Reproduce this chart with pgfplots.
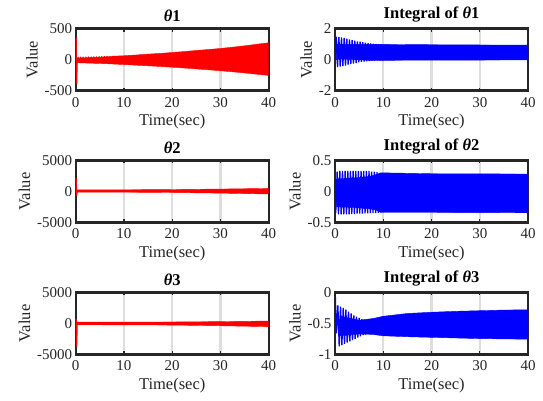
\documentclass[border=0pt]{standalone}
\usepackage{fontspec}
\setmainfont{Liberation Serif}
\usepackage{pgfplots}
\pgfplotsset{compat=1.18}
\definecolor{axgray}{gray}{0.15}
\definecolor{gridgray}{RGB}{222,222,222}
\pgfplotsset{
  every axis grid/.style={gridgray, line width=2.2pt},
  every major grid/.style={gridgray, line width=2.2pt},
  mystyle/.style={
    scale only axis, width=193pt, height=62pt,
    anchor=north west,
    xmin=0, xmax=40, xtick={0,10,20,30,40},
    xticklabels={0,10,20,30,40},
    xmajorgrids,
    axis line style={axgray, line width=2.2pt},
    tick style={axgray, line width=1.4pt},
    tick align=inside, major tick length=3pt,
    ticklabel style={font=\fontsize{15}{16}\selectfont, text=axgray},
    xticklabel style={yshift=-3pt},
    label style={font=\fontsize{16.5}{18}\selectfont, text=axgray},
    title style={font=\bfseries\fontsize{16.5}{18}\selectfont, text=black, yshift=-3pt},
    xlabel={Time(sec)}, ylabel={Value},
    /pgf/number format/assume math mode=true,
  },
}
\begin{document}
\begin{tikzpicture}
\path[use as bounding box] (0pt,0pt) rectangle (543pt,-401pt);

% theta 1
\begin{axis}[mystyle, at={(75.7pt,-28.6pt)}, ymin=-500, ymax=500,
  ytick={-500,0,500}, yticklabels={-500,0,500}, title={\textit{θ}1}]
\addplot[draw=red, fill=red, line width=0.4pt] coordinates {
(0.35,20) (0.5,45) (0.75,18) (1.0,45) (1.3,20) (1.55,45) (1.85,20) (2.1,45)
(2.4,22) (2.65,46) (2.95,24) (3.2,47) (3.5,26) (3.75,48) (4.05,28) (4.3,49)
(4.6,30) (4.85,50) (5.15,33) (5.4,51) (5.7,36) (5.95,52) (6.25,40) (6.5,53)
(6.8,44) (7.05,54) (7.35,48) (7.6,55) (8,56) (10,62) (12,72) (15,88) (18,103)
(20,115) (22,127) (25,147) (28,166) (30,180) (32,196) (35,222) (38,252) (40,272)
(40,-255) (38,-240) (35,-215) (32,-193) (30,-180) (28,-167) (25,-150) (22,-133)
(20,-123) (18,-113) (15,-100) (12,-88) (10,-80) (8,-72) (6,-65) (4,-60) (2,-55)
(1,-52) (0.35,-50)} -- cycle;
\addplot[red, line width=1.2pt] coordinates {(0,0) (0.1,350) (0.2,-390) (0.3,0) (0.4,20)};
\end{axis}

% integral theta 1
\begin{axis}[mystyle, at={(335pt,-28.6pt)}, ymin=-2, ymax=2,
  ytick={-2,0,2}, yticklabels={-2,0,2}, title={Integral of \textit{θ}1}]
\addplot[draw=blue, fill=blue, line width=0.4pt] coordinates {
(0.3,1.0) (4,0.98) (8,0.98) (10,0.98) (15,0.97) (20,0.96) (30,0.945) (40,0.93)
(40,-0.02) (30,-0.03) (20,-0.03) (15,-0.04) (10,-0.05) (8,-0.06) (4,0.0) (0.3,0.05)} -- cycle;
\addplot[blue, line width=1.3pt] coordinates {
(0,0) (0.25,1.48) (0.525,-0.48) (0.80,1.46) (1.075,-0.45) (1.35,1.43) (1.625,-0.42)
(1.90,1.40) (2.175,-0.38) (2.45,1.35) (2.725,-0.33) (3.00,1.30) (3.275,-0.29)
(3.55,1.26) (3.825,-0.25) (4.10,1.22) (4.375,-0.22) (4.65,1.18) (4.925,-0.18)
(5.20,1.15) (5.475,-0.15) (5.75,1.12) (6.025,-0.13) (6.30,1.09) (6.575,-0.11)
(6.85,1.06) (7.125,-0.09) (7.40,1.04) (7.675,-0.08) (7.95,1.02) (8.225,-0.07)
(8.50,1.01) (8.775,-0.06) (9.05,1.00) (9.325,-0.06) (9.60,0.99) (9.875,-0.05)};
\end{axis}

% theta 2
\begin{axis}[mystyle, at={(75.7pt,-160.4pt)}, ymin=-5000, ymax=5000,
  ytick={-5000,0,5000}, yticklabels={-5000,0,5000}, title={\textit{θ}2}]
\addplot[draw=red, fill=red, line width=0.4pt] coordinates {
(0.3,250) (10,260) (20,300) (30,380) (40,480)
(40,-420) (30,-280) (20,-180) (10,-130) (0.3,-120)} -- cycle;
\addplot[red, line width=1.2pt] coordinates {(0,0) (0.1,2100) (0.2,-700) (0.3,0)};
\end{axis}

% integral theta 2
\begin{axis}[mystyle, at={(335pt,-160.4pt)}, ymin=-0.5, ymax=0.5,
  ytick={-0.5,0,0.5}, yticklabels={-0.5,0,0.5}, title={Integral of \textit{θ}2}]
\addplot[draw=blue, fill=blue, line width=0.4pt] coordinates {
(0.3,0.2) (4,0.22) (7,0.24) (8.5,0.27) (9.5,0.30) (20,0.285) (40,0.28)
(40,-0.345) (20,-0.34) (9.5,-0.34) (8.5,-0.3) (7,-0.28) (4,-0.26) (0.3,-0.25)} -- cycle;
\addplot[blue, line width=1.3pt] coordinates {
(0,0.2) (0.15,-0.35) (0.45,0.32) (0.725,-0.37) (1.0,0.33) (1.275,-0.37)
(1.55,0.33) (1.825,-0.37) (2.1,0.33) (2.375,-0.37) (2.65,0.33) (2.925,-0.37)
(3.2,0.33) (3.475,-0.365) (3.75,0.33) (4.025,-0.365) (4.3,0.33) (4.575,-0.36)
(4.85,0.33) (5.125,-0.36) (5.4,0.33) (5.675,-0.36) (5.95,0.33) (6.225,-0.355)
(6.5,0.33) (6.775,-0.355) (7.05,0.33) (7.325,-0.35) (7.6,0.32) (7.875,-0.35)
(8.15,0.32) (8.425,-0.35) (8.7,0.31) (8.975,-0.345) (9.25,0.30) (9.525,-0.34)};
\end{axis}

% theta 3
\begin{axis}[mystyle, at={(75.7pt,-292.4pt)}, ymin=-5000, ymax=5000,
  ytick={-5000,0,5000}, yticklabels={-5000,0,5000}, title={\textit{θ}3}]
\addplot[draw=red, fill=red, line width=0.4pt] coordinates {
(0.3,200) (10,210) (20,230) (30,290) (40,380)
(40,-520) (30,-380) (20,-270) (10,-230) (0.3,-220)} -- cycle;
\addplot[red, line width=1.2pt] coordinates {(0,0) (0.1,700) (0.2,-3750) (0.3,0)};
\end{axis}

% integral theta 3
\begin{axis}[mystyle, at={(335pt,-292.4pt)}, ymin=-1, ymax=0,
  ytick={-1,-0.5,0}, yticklabels={-1,-0.5,0}, title={Integral of \textit{θ}3}]
\addplot[draw=blue, fill=blue, line width=0.4pt] coordinates {
(1,-0.38) (5,-0.45) (7,-0.43) (8,-0.42) (10,-0.385) (15,-0.34) (20,-0.32) (25,-0.305)
(30,-0.295) (35,-0.285) (40,-0.28)
(40,-0.755) (35,-0.75) (30,-0.745) (25,-0.735) (20,-0.725) (15,-0.715) (10,-0.70)
(8,-0.68) (7,-0.675) (5,-0.67) (1,-0.7)} -- cycle;
\addplot[blue, line width=1.3pt] coordinates {
(0,0) (0.05,-0.02) (0.3,-0.66) (0.6,-0.21) (0.875,-0.87) (1.15,-0.23) (1.425,-0.85)
(1.7,-0.25) (1.975,-0.83) (2.25,-0.28) (2.525,-0.81) (2.8,-0.31) (3.075,-0.79)
(3.35,-0.34) (3.625,-0.77) (3.9,-0.37) (4.175,-0.75) (4.45,-0.39) (4.725,-0.73)
(5.0,-0.41) (5.275,-0.71) (5.55,-0.43) (5.825,-0.69) (6.1,-0.44) (6.375,-0.68)
(6.65,-0.45) (6.925,-0.67) (7.2,-0.45) (7.475,-0.665) (7.75,-0.44) (8.025,-0.67)};
\end{axis}
\end{tikzpicture}
\end{document}
